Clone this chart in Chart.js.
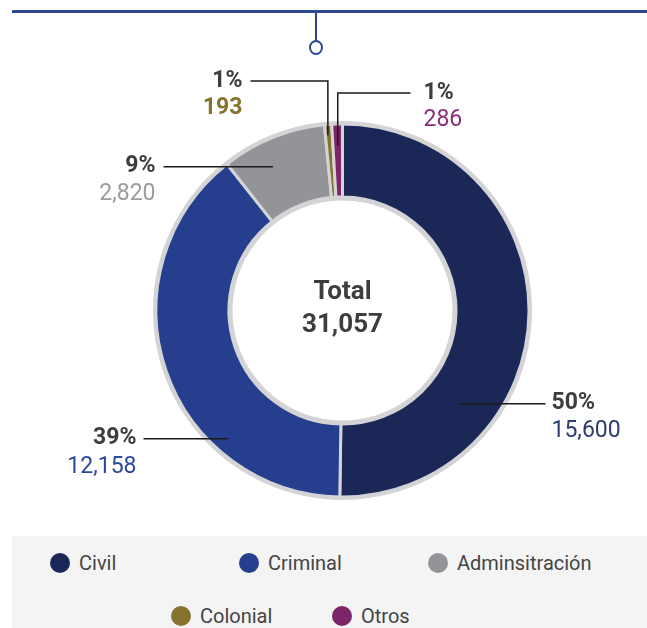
<!DOCTYPE html>
<html>
<head>
<meta charset="utf-8">
<script src="https://cdn.jsdelivr.net/npm/chart.js@4"></script>
<style>
  body { margin: 0; background: #fff; font-family: Roboto, sans-serif; }
  #wrap { position: relative; width: 647px; height: 628px; overflow: hidden; }
  #chartBox { position: absolute; left: 0; top: 0; width: 647px; height: 536px; }
  .topline { position: absolute; left: 12px; top: 10px; width: 635px; height: 2.5px; background: #2d4795; }
  .stem { position: absolute; left: 315px; top: 11px; width: 2px; height: 30px; background: #2d4795; }
  .knob { position: absolute; left: 309px; top: 40px; width: 10px; height: 11px; border: 2px solid #2d4795; border-radius: 50%; background: #fff; }
  #legend { position: absolute; left: 12px; top: 536px; width: 635px; height: 92px; background: #f4f4f4; }
  .row { position: absolute; left: 0; display: flex; }
  .item { display: flex; align-items: center; font-size: 20px; color: #444; height: 24px; }
  .dot { width: 20px; height: 20px; border-radius: 50%; margin-right: 9px; }
</style>
</head>
<body>
<div id="wrap">
  <div id="chartBox"><canvas id="c"></canvas></div>
  <div class="topline"></div>
  <div class="stem"></div>
  <div class="knob"></div>
  <div id="legend"></div>
</div>
<script>
const categories = ["Civil", "Criminal", "Adminsitración", "Colonial", "Otros"];
const values = [15600, 12158, 2820, 193, 286];
const sliceColors = ["#1b2857", "#253f8e", "#939498", "#85732e", "#7e2468"];
const valueColors = ["#2e3b6e", "#2d4a9a", "#9b9b9b", "#85732e", "#8a2f78"];

const total = values.reduce((a, b) => a + b, 0);
const fmt = n => n.toLocaleString("en-US");
const ringGrey = "#d4d4d6";

// label layout: where the leader starts on the slice, and where the text sits (relative to centre)
const labelLayout = [
  { frac: 0.71, rFrac: 0.5, lineY: null, lineX: 203, textX: 209, align: "left", valY: 28, boldVal: false },
  { frac: 0.29, rFrac: 0.81, lineY: null, lineX: -199, textX: -206, align: "right", valY: 29, boldVal: false },
  { frac: 0.38, rFrac: 0.64, lineY: null, lineX: -179, textX: -187, align: "right", valY: 28, boldVal: false },
  { frac: 0.35, rFrac: 0.87, lineY: -229.5, lineX: -92, textX: -100, align: "right", valY: 27, boldVal: true },
  { frac: 0.5, rFrac: 0.71, lineY: -217.5, lineX: 68, textX: 81, align: "left", valY: 27, boldVal: false }
];

// grey rim behind the slices
const rimPlugin = {
  id: "rim",
  beforeDatasetsDraw(chart) {
    const arc = chart.getDatasetMeta(0).data[0];
    const ctx = chart.ctx;
    ctx.save();
    ctx.fillStyle = ringGrey;
    ctx.beginPath();
    ctx.arc(arc.x, arc.y, arc.outerRadius + 3, 0, Math.PI * 2);
    ctx.arc(arc.x, arc.y, arc.innerRadius - 3.5, 0, Math.PI * 2, true);
    ctx.fill();
    ctx.restore();
  }
};

const labelsPlugin = {
  id: "leaderLabels",
  afterDatasetsDraw(chart) {
    const ctx = chart.ctx;
    const arcs = chart.getDatasetMeta(0).data;
    ctx.save();
    arcs.forEach((arc, i) => {
      const p = arc.getProps(["x", "y", "startAngle", "endAngle", "innerRadius", "outerRadius"], true);
      const L = labelLayout[i];
      const a = p.startAngle + (p.endAngle - p.startAngle) * L.frac;
      const r = p.innerRadius + 1.5 + (p.outerRadius - p.innerRadius - 3) * L.rFrac;
      const ax = p.x + Math.cos(a) * r;
      const ay = p.y + Math.sin(a) * r;
      const ly = L.lineY === null ? ay : p.y + L.lineY;
      ctx.strokeStyle = "#1a1a1a";
      ctx.lineWidth = 1.5;
      ctx.beginPath();
      ctx.moveTo(ax, ay);
      if (L.lineY !== null) ctx.lineTo(ax, ly);
      ctx.lineTo(p.x + L.lineX, ly);
      ctx.stroke();

      const tx = p.x + L.textX;
      ctx.textAlign = L.align;
      ctx.textBaseline = "middle";
      ctx.fillStyle = "#3d3d3d";
      ctx.font = "bold 23px Roboto";
      ctx.fillText(Math.round(values[i] / total * 100) + "%", tx, ly);
      ctx.fillStyle = valueColors[i];
      ctx.font = (L.boldVal ? "bold " : "") + "23px Roboto";
      ctx.fillText(fmt(values[i]), tx, ly + L.valY);
    });
    // centre total
    const c = arcs[0];
    ctx.textAlign = "center";
    ctx.fillStyle = "#3d3d3d";
    ctx.font = "bold 26px Roboto";
    ctx.fillText("Total", c.x, c.y - 18);
    ctx.fillText(fmt(total), c.x, c.y + 15);
    ctx.restore();
  }
};

new Chart(document.getElementById("c"), {
  type: "doughnut",
  data: {
    labels: categories,
    datasets: [{
      data: values,
      backgroundColor: sliceColors,
      borderColor: ringGrey,
      borderWidth: 3,
      borderAlign: "center"
    }]
  },
  options: {
    responsive: true,
    maintainAspectRatio: false,
    animation: false,
    events: [],
    radius: 186.5,
    cutout: "60.86%",
    layout: { padding: { left: 38, right: 0, top: 85, bottom: 0 } },
    plugins: { legend: { display: false }, tooltip: { enabled: false } }
  },
  plugins: [rimPlugin, labelsPlugin]
});

// html legend
const legend = document.getElementById("legend");
const rows = [
  { idx: [0, 1, 2], left: 38, top: 15, width: 189 },
  { idx: [3, 4], left: 159, top: 68, width: 161 }
];
rows.forEach(row => {
  const el = document.createElement("div");
  el.className = "row";
  el.style.left = row.left + "px";
  el.style.top = row.top + "px";
  row.idx.forEach(i => {
    const it = document.createElement("div");
    it.className = "item";
    it.style.width = row.width + "px";
    it.innerHTML = `<span class="dot" style="background:${sliceColors[i]}"></span><span>${categories[i]}</span>`;
    el.appendChild(it);
  });
  legend.appendChild(el);
});
</script>
</body>
</html>
